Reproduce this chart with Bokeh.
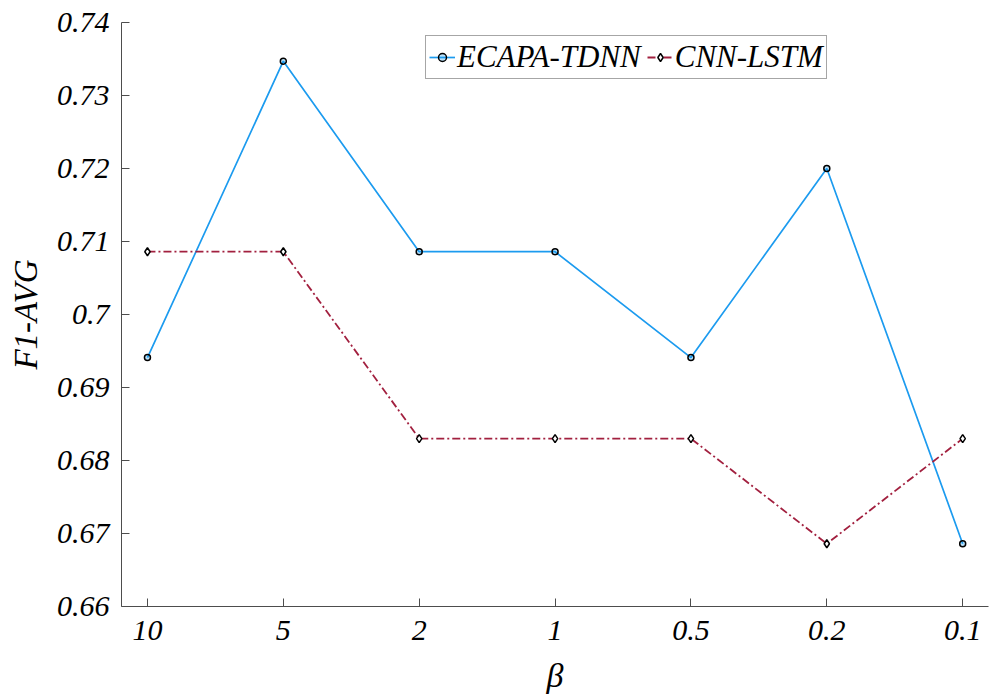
from bokeh.plotting import figure
from bokeh.models import FixedTicker, Range1d, Legend, LegendItem
from bokeh.embed import file_html
from bokeh.resources import INLINE

beta_labels = ["10", "5", "2", "1", "0.5", "0.2", "0.1"]
x_pos = [1, 2, 3, 4, 5, 6, 7]
ecapa = [0.6941, 0.7347, 0.7086, 0.7086, 0.6941, 0.7200, 0.6686]
cnn_lstm = [0.7086, 0.7086, 0.6830, 0.6830, 0.6830, 0.6686, 0.6830]
y_ticks = [0.66, 0.67, 0.68, 0.69, 0.70, 0.71, 0.72, 0.73, 0.74]
y_tick_labels = ["0.66", "0.67", "0.68", "0.69", "0.7", "0.71", "0.72", "0.73", "0.74"]

FONT = "Liberation Serif"

p = figure(width=990, height=696, output_backend="svg", toolbar_location=None,
           x_range=Range1d(0.809, 7.19), y_range=Range1d(0.66, 0.74),
           min_border_left=121, min_border_right=2, min_border_top=22, min_border_bottom=90)
p.outline_line_color = None
p.xgrid.visible = False
p.ygrid.visible = False
p.background_fill_color = "white"

blue = "#1C9BEF"
red = "#A2203F"

l1 = p.line(x_pos, ecapa, line_color=blue, line_width=1.7)
m1 = p.scatter(x_pos, ecapa, marker="circle", size=6, line_color="black", line_width=1.5, fill_color=blue, fill_alpha=0.3)
l2 = p.line(x_pos, cnn_lstm, line_color=red, line_width=1.8, line_dash="8 3 2 3")
m2 = p.scatter(x_pos, cnn_lstm, marker="diamond", size=8, line_color="black", line_width=1.5, fill_color="white")

for ax in (p.xaxis[0], p.yaxis[0]):
    ax.axis_line_color = "#4d4d4d"
    ax.major_tick_line_color = "#4d4d4d"
    ax.major_tick_in = 8
    ax.major_tick_out = 0
    ax.minor_tick_line_color = None
    ax.major_label_text_font = FONT
    ax.major_label_text_font_style = "italic"
    ax.major_label_text_font_size = "30px"
    ax.major_label_text_color = "black"
    ax.axis_label_text_font = FONT
    ax.axis_label_text_font_style = "italic"
    ax.axis_label_text_color = "black"

p.xaxis.ticker = FixedTicker(ticks=x_pos)
p.xaxis.major_label_overrides = {x: l for x, l in zip(x_pos, beta_labels)}
p.yaxis.ticker = FixedTicker(ticks=y_ticks)
p.yaxis.major_label_overrides = {t: l for t, l in zip(y_ticks, y_tick_labels)}
p.xaxis.major_label_standoff = 14
p.yaxis.major_label_standoff = 12
p.xaxis.axis_label = "β"
p.xaxis.axis_label_text_font_size = "34px"
p.xaxis.axis_label_standoff = 14
p.yaxis.axis_label = "F1-AVG"
p.yaxis.axis_label_text_font_size = "33px"
p.yaxis.axis_label_standoff = 10

legend = Legend(items=[LegendItem(label="ECAPA-TDNN", renderers=[l1, m1]),
                       LegendItem(label="CNN-LSTM", renderers=[l2, m2])],
                orientation="horizontal", location=(304, 527))
legend.label_text_font = FONT
legend.label_text_font_style = "italic"
legend.label_text_font_size = "31px"
legend.label_text_color = "black"
legend.glyph_width = 26
legend.glyph_height = 20
legend.label_standoff = 2
legend.spacing = 6
legend.padding = 3
legend.margin = 0
legend.border_line_color = "#4d4d4d"
legend.border_line_width = 1
legend.background_fill_color = "white"
p.add_layout(legend, "center")

open("out.html", "w").write(file_html(p, INLINE))
